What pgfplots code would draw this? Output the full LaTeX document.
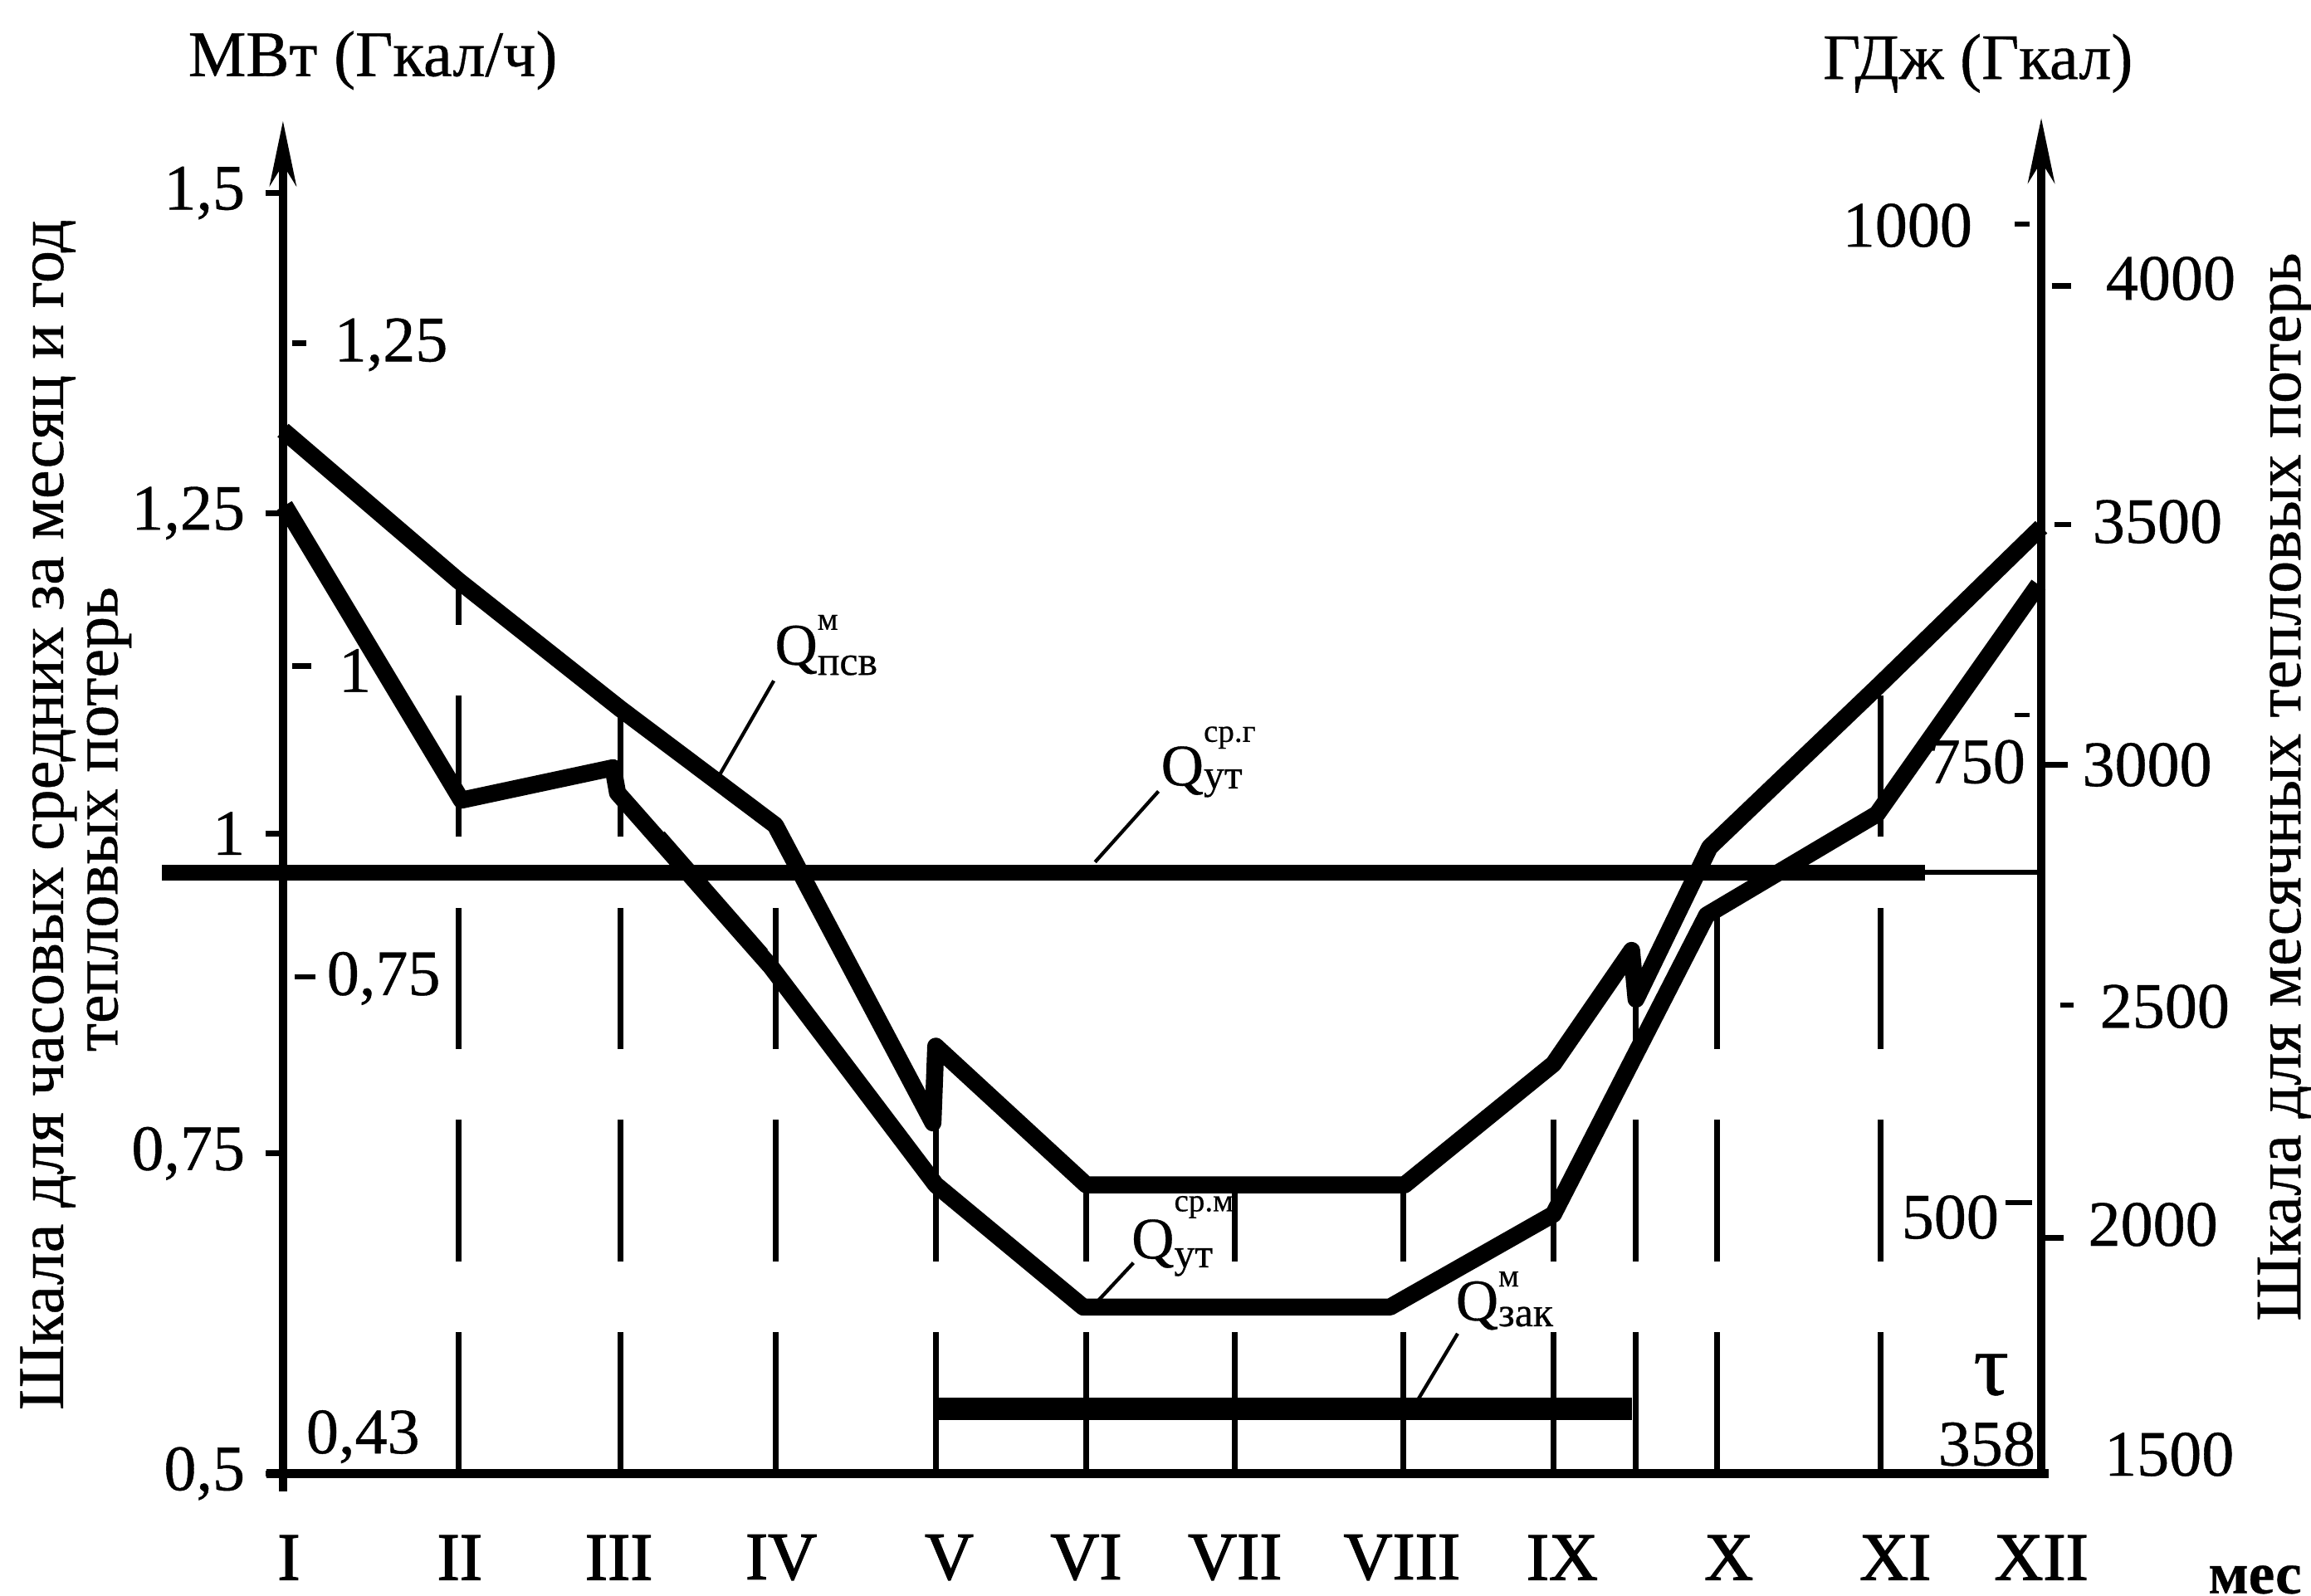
\documentclass[border=0pt]{standalone}
\usepackage{fontspec}
\setmainfont{Liberation Serif}[FakeBold=0.5]
\newfontfamily\heavy{Liberation Serif}[FakeBold=1.6]
\usepackage{pgfplots}
\pgfplotsset{compat=1.18}
\usetikzlibrary{arrows.meta}
\newcommand\fs[1]{\fontsize{#1}{#1}\selectfont}
\newcommand\Qlab[4]{{\fs{10}Q}\makebox[0pt][l]{\raisebox{#3}{\fs{5.5}#1}}\raisebox{-#4}{\fs{7}#2}}
\begin{document}
\begin{tikzpicture}
\useasboundingbox (0,0) rectangle (392pt,270.75pt);
\begin{axis}[
  at={(48pt,20.75pt)}, anchor=south west,
  scale only axis, width=298.25pt, height=229.5pt,
  xmin=1, xmax=12, ymin=0.5, ymax=1.5564,
  clip=false,
  axis line style={draw=none},
  xtick={1.037,2.106,3.102,4.117,5.168,6.025,6.956,8.0,9.003,10.045,11.087,12},
  xticklabels={I,II,III,IV,V,VI,VII,VIII,IX,X,XI,XII},
  xtick style={draw=none},
  xticklabel style={font=\heavy\fs{11.5}, anchor=center, inner sep=0pt, yshift=-11.25pt},
  ytick={0.5,0.75,1,1.25,1.5},
  yticklabels={{0,5\hspace{-2.75pt}},{0,75},{1},{1,25},{1,5\hspace{4.25pt}}},
  ytick pos=left,
  tick align=outside,
  major tick length=3pt,
  ytick style={line width=1pt, black},
  yticklabel style={font=\fs{11}, anchor=east, inner sep=0pt, xshift=-3.25pt},
]
% vertical dashed month lines
\pgfplotsset{vl/.style={line width=1pt, dash pattern=on 24pt off 12pt, forget plot}}
\addplot[vl] coordinates {(2.097,0.5) (2.097,1.1974)};
\addplot[vl] coordinates {(3.111,0.5) (3.111,1.0972)};
\addplot[vl] coordinates {(4.084,0.5) (4.084,1.0063)};
\addplot[vl] coordinates {(5.084,0.5) (5.084,0.7739)};
\addplot[vl] coordinates {(6.025,0.5) (6.025,0.7255)};
\addplot[vl] coordinates {(6.956,0.5) (6.956,0.7255)};
\addplot[vl] coordinates {(8.008,0.5) (8.008,0.7255)};
\addplot[vl] coordinates {(8.948,0.5) (8.948,0.8199)};
\addplot[vl] coordinates {(9.465,0.5) (9.465,0.8705)};
\addplot[vl] coordinates {(9.972,0.5) (9.972,0.9948)};
\addplot[vl] coordinates {(10.995,0.5) (10.995,1.1157)};
% Q_psv^m (upper)
\addplot[line width=2.9pt, line join=round] coordinates {
 (1.000,1.3147) (2.097,1.1974) (3.111,1.0972) (4.080,1.0063) (5.066,0.7739)
 (5.084,0.8337) (6.025,0.7255) (8.017,0.7255) (8.948,0.8199) (9.437,0.9085)
 (9.465,0.8705) (9.925,0.9891) (10.986,1.1157) (12.000,1.2391)};
% Q_ut^sr.m (lower)
\addplot[line width=2.9pt, line join=round] coordinates {
 (1.010,1.2560) (2.116,1.0259) (3.065,1.0512) (3.093,1.0316) (4.052,0.8959)
 (5.084,0.7255) (6.007,0.6300) (7.925,0.6300) (8.948,0.7025) (9.907,0.9361)
 (10.972,1.0150) (11.983,1.1942)};
% thin companion strokes
\addplot[line width=0.6pt] coordinates {(3.379,1.0006) (4.024,0.9085)};
\addplot[line width=0.6pt] coordinates {(9.000,0.7100) (9.446,0.8165)};
% Q_ut^sr.g (annual mean)
\addplot[line width=2.7pt] coordinates {(0.244,0.9695) (11.272,0.9695)};
\addplot[line width=0.9pt] coordinates {(11.272,0.9695) (12,0.9695)};
% Q_zak^m bar
\addplot[line width=3.8pt] coordinates {(5.093,0.5506) (9.437,0.5506)};
% axes
\draw[line width=1.5pt] (axis cs:0.899,0.5) -- (axis cs:12.046,0.5);
\draw[line width=1.5pt, -{Stealth[length=11pt,width=4.5pt]}] (axis cs:1,0.486) -- (axis cs:1,1.5564);
\draw[line width=1.5pt, -{Stealth[length=11pt,width=4.5pt]}] (axis cs:12,0.5) -- (axis cs:12,1.5587);
\end{axis}
\begin{scope}[shift={(0pt,270.75pt)}, x=0.25pt, y=-0.25pt, every node/.style={inner sep=0pt, font=\fs{11}}]
 \node at (253,41) {МВт (Гкал/ч)};
 \node at (1342,43) {ГДж (Гкал)};
 \node[rotate=90] at (33,553) {Шкала для часовых средних за месяц и год};
 \node[rotate=90] at (74,556) {тепловых потерь};
 \node[rotate=90] at (1551,534) {Шкала для месячных тепловых потерь};
 % left inner scale
 \draw[line width=0.9pt] (198,233)--(208,233);
 \node[anchor=west] at (226,234) {1,25};
 \draw[line width=0.9pt] (198,452)--(211,452);
 \node[anchor=west] at (229,455) {1};
 \draw[line width=0.9pt] (200,663)--(214,663);
 \node[anchor=west] at (221,664) {0,75};
 \node[anchor=west] at (207,975) {0,43};
 % right inner scale
 \node[anchor=east] at (1339,153) {1000};
 \draw[line width=0.9pt] (1367,152)--(1377,152);
 \node[anchor=east] at (1375,517) {750};
 \draw[line width=0.7pt] (1367,485)--(1377,485);
 \node[anchor=east] at (1357,826) {500};
 \draw[line width=0.9pt] (1361,816)--(1379,816);
 \node at (1351,933) {\fs{15}τ};
 \node at (1348,980) {358};
 % right outer scale
 \draw[line width=0.9pt] (1392,194)--(1405,194);
 \node[anchor=west] at (1428,189) {4000};
 \draw[line width=0.9pt] (1394,356)--(1405,356);
 \node[anchor=west] at (1419,354) {3500};
 \draw[line width=0.9pt] (1385,519)--(1403,519);
 \node[anchor=west] at (1412,519) {3000};
 \draw[line width=0.9pt] (1398,682)--(1407,682);
 \node[anchor=west] at (1424,683) {2500};
 \draw[line width=0.9pt] (1385,840)--(1400,840);
 \node[anchor=west] at (1416,831) {2000};
 \node[anchor=west] at (1427,987) {1500};
 % curve labels and leaders
 \node[anchor=base west] at (525,451) {\Qlab{м}{псв}{5.9pt}{1.75pt}};
 \draw[line width=0.6pt] (525,462)--(487,528);
 \node[anchor=base west] at (787,533) {\Qlab{ср.г}{ут}{7.4pt}{0.5pt}};
 \draw[line width=0.6pt] (786,537)--(743,585);
 \node[anchor=base west] at (767,854) {\Qlab{ср.м}{ут}{8pt}{1.5pt}};
 \draw[line width=0.6pt] (769,857)--(742,886);
 \node[anchor=base west] at (987,896) {\Qlab{м}{зак}{5.75pt}{1pt}};
 \draw[line width=0.6pt] (989,905)--(962,950);
 \node[font=\bfseries\fs{10}] at (1530,1072) {мес};
\end{scope}
\end{tikzpicture}
\end{document}
